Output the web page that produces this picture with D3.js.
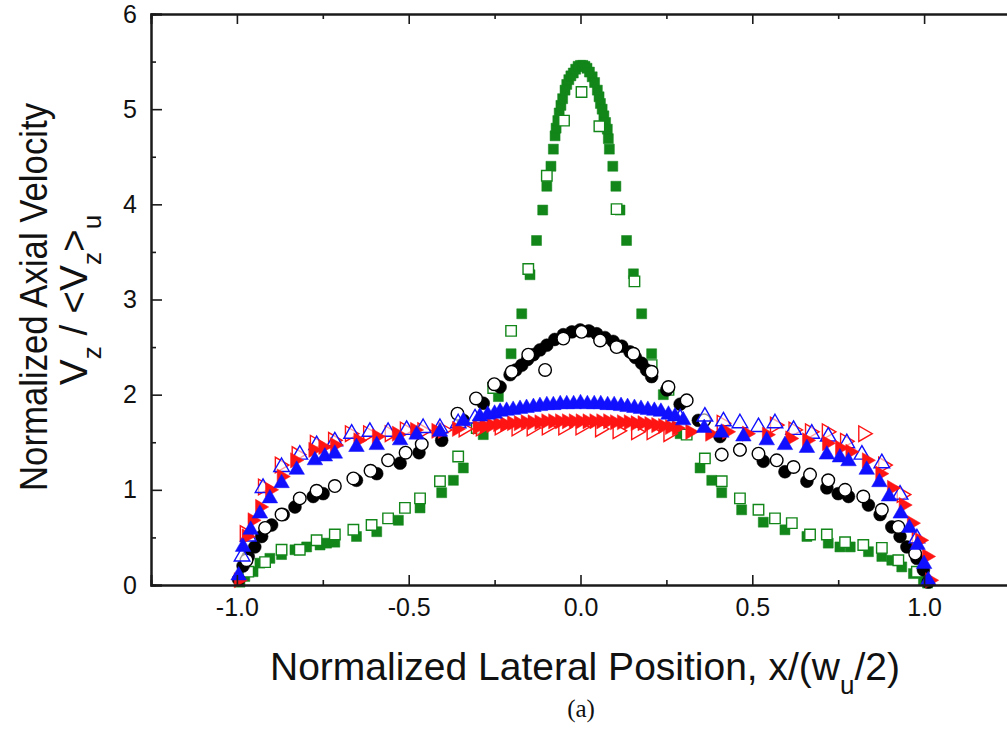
<!DOCTYPE html>
<html>
<head>
<meta charset="utf-8">
<script src="https://cdn.jsdelivr.net/npm/d3@7"></script>
<style>
  html, body { margin: 0; padding: 0; background: #fff; }
  svg { display: block; }
  text { font-family: "Liberation Sans", Arial, sans-serif; }
</style>
</head>
<body>
<script>
// ---------------- DATA ----------------
const xTicks = [-1.0, -0.5, 0.0, 0.5, 1.0];
const xMinorTicks = [-0.75, -0.25, 0.25, 0.75];
const yTicks = [0, 1, 2, 3, 4, 5, 6];
const yMinorTicks = [0.5, 1.5, 2.5, 3.5, 4.5, 5.5];

// green filled squares
const greenFilled = [[-0.991,0.03],[-0.977,0.09],[-0.953,0.14],[-0.933,0.23],[-0.904,0.28],[-0.870,0.32],[-0.831,0.37],[-0.797,0.40],[-0.758,0.42],[-0.739,0.44],[-0.715,0.45],[-0.652,0.51],[-0.593,0.56],[-0.530,0.68],[-0.467,0.81],[-0.404,0.97],[-0.370,1.10],[-0.341,1.23],[-0.283,1.58],[-0.239,1.98],[-0.202,2.43],[-0.171,2.85],[-0.147,3.26],[-0.128,3.62],[-0.110,3.94],[-0.098,4.19],[-0.086,4.40],[-0.079,4.58],[-0.074,4.72],[-0.071,4.80],[-0.066,4.88],[-0.062,4.96],[-0.057,5.04],[-0.052,5.11],[-0.045,5.20],[-0.040,5.26],[-0.034,5.31],[-0.028,5.35],[-0.021,5.38],[-0.014,5.42],[-0.007,5.45],[0.000,5.46],[0.007,5.46],[0.013,5.45],[0.019,5.43],[0.026,5.39],[0.034,5.34],[0.041,5.28],[0.049,5.20],[0.054,5.13],[0.058,5.06],[0.063,5.00],[0.068,4.93],[0.073,4.86],[0.078,4.79],[0.081,4.69],[0.084,4.58],[0.094,4.40],[0.103,4.19],[0.115,3.94],[0.134,3.62],[0.154,3.27],[0.178,2.85],[0.207,2.43],[0.241,2.00],[0.290,1.59],[0.348,1.23],[0.382,1.10],[0.411,0.97],[0.469,0.79],[0.532,0.66],[0.595,0.58],[0.659,0.51],[0.721,0.44],[0.755,0.40],[0.785,0.40],[0.838,0.35],[0.877,0.30],[0.906,0.26],[0.935,0.19],[0.969,0.12],[0.998,0.05],[1.010,0.02]];

// green open squares
const greenOpen = [[-0.967,0.14],[-0.918,0.24],[-0.870,0.37],[-0.817,0.37],[-0.768,0.47],[-0.715,0.53],[-0.661,0.58],[-0.608,0.63],[-0.560,0.70],[-0.511,0.81],[-0.467,0.91],[-0.409,1.09],[-0.356,1.35],[-0.302,1.65],[-0.254,2.07],[-0.202,2.67],[-0.152,3.32],[-0.098,4.30],[-0.048,4.88],[0.003,5.18],[0.055,4.82],[0.105,3.95],[0.157,3.19],[0.207,2.31],[0.256,2.05],[0.309,1.58],[0.362,1.33],[0.411,1.09],[0.464,0.91],[0.518,0.79],[0.566,0.70],[0.615,0.65],[0.668,0.53],[0.717,0.53],[0.770,0.45],[0.823,0.42],[0.877,0.39],[0.925,0.26],[0.979,0.14]];

// black filled circles
const blackFilled = [[-0.995,0.06],[-0.982,0.20],[-0.967,0.30],[-0.948,0.40],[-0.928,0.51],[-0.899,0.63],[-0.865,0.74],[-0.831,0.82],[-0.778,0.93],[-0.749,0.96],[-0.652,1.10],[-0.593,1.17],[-0.525,1.28],[-0.470,1.39],[-0.404,1.52],[-0.341,1.73],[-0.283,1.91],[-0.234,2.08],[-0.205,2.21],[-0.188,2.26],[-0.171,2.31],[-0.154,2.37],[-0.137,2.42],[-0.118,2.47],[-0.098,2.52],[-0.075,2.58],[-0.050,2.63],[-0.025,2.66],[-0.001,2.68],[0.024,2.67],[0.047,2.64],[0.071,2.60],[0.095,2.56],[0.120,2.51],[0.144,2.45],[0.160,2.39],[0.178,2.33],[0.192,2.26],[0.207,2.19],[0.251,2.05],[0.290,1.90],[0.343,1.73],[0.406,1.56],[0.464,1.42],[0.532,1.30],[0.595,1.19],[0.659,1.09],[0.717,1.02],[0.750,0.96],[0.780,0.93],[0.838,0.84],[0.872,0.74],[0.906,0.61],[0.930,0.51],[0.950,0.40],[0.979,0.28],[0.998,0.16],[1.012,0.03]];

// black open circles
const blackOpen = [[-0.972,0.26],[-0.918,0.60],[-0.870,0.74],[-0.817,0.91],[-0.768,0.99],[-0.715,1.04],[-0.661,1.12],[-0.611,1.20],[-0.560,1.31],[-0.509,1.39],[-0.462,1.48],[-0.358,1.80],[-0.304,1.96],[-0.251,2.11],[-0.200,2.24],[-0.152,2.42],[-0.103,2.26],[-0.050,2.59],[0.003,2.66],[0.057,2.57],[0.105,2.50],[0.154,2.43],[0.207,2.24],[0.256,2.08],[0.309,1.94],[0.360,1.73],[0.411,1.37],[0.464,1.42],[0.518,1.38],[0.571,1.31],[0.620,1.24],[0.668,1.16],[0.721,1.10],[0.770,1.00],[0.823,0.93],[0.877,0.79],[0.925,0.61],[0.974,0.33]];

// blue filled up-triangles
const blueFilled = [[-0.995,0.10],[-0.982,0.40],[-0.960,0.58],[-0.933,0.75],[-0.904,0.91],[-0.870,1.07],[-0.826,1.21],[-0.773,1.31],[-0.744,1.35],[-0.715,1.38],[-0.652,1.45],[-0.593,1.47],[-0.525,1.52],[-0.477,1.58],[-0.409,1.61],[-0.341,1.72],[-0.293,1.77],[-0.270,1.79],[-0.250,1.80],[-0.234,1.82],[-0.215,1.83],[-0.196,1.84],[-0.176,1.85],[-0.157,1.86],[-0.137,1.87],[-0.118,1.88],[-0.098,1.89],[-0.079,1.89],[-0.059,1.90],[-0.040,1.90],[-0.020,1.90],[0.000,1.91],[0.020,1.90],[0.040,1.90],[0.059,1.90],[0.079,1.89],[0.098,1.89],[0.118,1.88],[0.137,1.87],[0.157,1.86],[0.176,1.85],[0.196,1.84],[0.215,1.83],[0.234,1.82],[0.256,1.79],[0.275,1.77],[0.299,1.73],[0.360,1.65],[0.410,1.60],[0.474,1.56],[0.542,1.52],[0.595,1.47],[0.659,1.44],[0.717,1.37],[0.755,1.34],[0.780,1.30],[0.833,1.21],[0.870,1.08],[0.898,0.93],[0.932,0.75],[0.957,0.60],[0.981,0.42],[1.000,0.22],[1.012,0.05]];

// blue open up-triangles
const blueOpen = [[-0.985,0.30],[-0.967,0.51],[-0.924,1.02],[-0.870,1.24],[-0.817,1.37],[-0.768,1.47],[-0.715,1.51],[-0.666,1.59],[-0.613,1.61],[-0.560,1.61],[-0.506,1.63],[-0.458,1.65],[-0.409,1.65],[-0.356,1.70],[-0.307,1.75],[0.290,1.75],[0.362,1.77],[0.416,1.72],[0.464,1.70],[0.518,1.66],[0.566,1.70],[0.620,1.63],[0.673,1.59],[0.721,1.56],[0.775,1.49],[0.819,1.37],[0.877,1.28],[0.930,0.95],[0.979,0.49]];

// red filled right-triangles
const redFilled = [[-0.995,0.05],[-0.972,0.51],[-0.955,0.68],[-0.933,0.82],[-0.904,1.00],[-0.870,1.14],[-0.831,1.31],[-0.778,1.42],[-0.749,1.45],[-0.715,1.47],[-0.647,1.52],[-0.593,1.56],[-0.535,1.59],[-0.482,1.63],[-0.420,1.62],[-0.360,1.64],[-0.300,1.66],[-0.280,1.67],[-0.260,1.68],[-0.240,1.69],[-0.220,1.69],[-0.200,1.70],[-0.180,1.70],[-0.160,1.71],[-0.140,1.71],[-0.120,1.71],[-0.100,1.72],[-0.080,1.72],[-0.060,1.72],[-0.040,1.72],[-0.020,1.72],[0.000,1.72],[0.020,1.72],[0.040,1.72],[0.060,1.72],[0.080,1.72],[0.100,1.71],[0.120,1.71],[0.140,1.71],[0.160,1.70],[0.180,1.70],[0.200,1.69],[0.220,1.68],[0.240,1.67],[0.260,1.66],[0.280,1.65],[0.319,1.61],[0.377,1.59],[0.426,1.61],[0.484,1.59],[0.542,1.58],[0.610,1.54],[0.659,1.52],[0.717,1.49],[0.755,1.44],[0.785,1.40],[0.833,1.31],[0.872,1.17],[0.906,1.02],[0.940,0.84],[0.964,0.65],[0.988,0.47],[1.008,0.30],[1.017,0.05]];

// red open right-triangles
const redOpen = [[-0.977,0.54],[-0.924,1.03],[-0.875,1.26],[-0.826,1.37],[-0.773,1.49],[-0.720,1.52],[-0.671,1.59],[-0.618,1.59],[-0.555,1.59],[-0.511,1.63],[-0.460,1.62],[-0.400,1.63],[-0.340,1.64],[-0.290,1.65],[-0.235,1.66],[-0.186,1.65],[-0.142,1.65],[-0.098,1.66],[-0.050,1.66],[0.000,1.66],[0.057,1.64],[0.108,1.62],[0.162,1.61],[0.207,1.61],[0.256,1.59],[0.411,1.70],[0.566,1.68],[0.620,1.63],[0.668,1.61],[0.717,1.61],[0.770,1.51],[0.823,1.59],[0.881,1.26],[0.935,0.95],[0.979,0.47]];

// ---------------- CHART ----------------
const W = 1007, H = 731;
const svg = d3.select("body").append("svg").attr("width", W).attr("height", H);

const x = d3.scaleLinear().domain([-1.25, 1.25]).range([151, 1010]);
const y = d3.scaleLinear().domain([0, 6]).range([585, 14]);

const green = "#13861a", blue = "#1010ff", red = "#ff1414", black = "#000";

const series = [
  {data: greenFilled, shape: "square", color: green, filled: true, size: 100},
  {data: greenOpen, shape: "square", color: green, filled: false, size: 110},
  {data: blackFilled, shape: "circle", color: black, filled: true, size: 130},
  {data: blackOpen, shape: "circle", color: black, filled: false, size: 125},
  {data: redOpen, shape: "right", color: red, filled: false, size: 105},
  {data: blueOpen, shape: "up", color: blue, filled: false, size: 105},
  {data: redFilled, shape: "right", color: red, filled: true, size: 100},
  {data: blueFilled, shape: "up", color: blue, filled: true, size: 105}
];

const symType = {square: d3.symbolSquare, circle: d3.symbolCircle, right: d3.symbolTriangle, up: d3.symbolTriangle};

const plot = svg.append("g");
series.forEach(s => {
  const path = d3.symbol().type(symType[s.shape]).size(s.size)();
  plot.append("g").selectAll("path").data(s.data).join("path")
    .attr("d", path)
    .attr("transform", d => `translate(${x(d[0])},${y(d[1])})` + (s.shape === "right" ? " rotate(90)" : ""))
    .attr("fill", s.filled ? s.color : "#fff")
    .attr("fill-opacity", s.filled ? 1 : (s.shape === "circle" || s.shape === "square" ? 1 : 0.6))
    .attr("stroke", s.color)
    .attr("stroke-width", s.filled ? 0.5 : 1.4);
});

// axes
const axisColor = "#1a1a1a";
const fmtX = d => d.toFixed(1);
const gx = svg.append("g").attr("transform", `translate(0,${y(0)})`)
  .call(d3.axisBottom(x).tickValues(xTicks).tickFormat(fmtX).tickSize(-10).tickPadding(13));
const gxm = svg.append("g").attr("transform", `translate(0,${y(0)})`)
  .call(d3.axisBottom(x).tickValues(xMinorTicks).tickFormat("").tickSize(-5));
const gt = svg.append("g").attr("transform", `translate(0,${y(6)})`)
  .call(d3.axisTop(x).tickValues(xTicks).tickFormat("").tickSize(-10));
const gtm = svg.append("g").attr("transform", `translate(0,${y(6)})`)
  .call(d3.axisTop(x).tickValues(xMinorTicks).tickFormat("").tickSize(-5));
const gy = svg.append("g").attr("transform", `translate(${x(-1.25)},0)`)
  .call(d3.axisLeft(y).tickValues(yTicks).tickFormat(d3.format("d")).tickSize(-11).tickPadding(14));
const gym = svg.append("g").attr("transform", `translate(${x(-1.25)},0)`)
  .call(d3.axisLeft(y).tickValues(yMinorTicks).tickFormat("").tickSize(-5));

[gx, gxm, gt, gtm, gy, gym].forEach(g => {
  g.select(".domain").attr("stroke", axisColor).attr("stroke-width", 2);
  g.selectAll(".tick line").attr("stroke", axisColor).attr("stroke-width", 1.6);
  g.selectAll(".tick text").attr("fill", "#111").style("font-family", '"Liberation Sans", Arial, sans-serif').style("font-size", "25px");
});
gx.selectAll(".tick text").attr("dy", "0.71em");

// axis titles
svg.append("text")
  .attr("x", 585).attr("y", 680)
  .attr("text-anchor", "middle")
  .style("font-size", "39px").attr("fill", "#111")
  .call(t => {
    t.append("tspan").text("Normalized Lateral Position, x/(w");
    t.append("tspan").attr("dy", 14).style("font-size", "26px").text("u");
    t.append("tspan").attr("dy", -14).text("/2)");
  });

svg.append("text")
  .attr("transform", "translate(47,297) rotate(-90)")
  .attr("text-anchor", "middle")
  .attr("textLength", 388).attr("lengthAdjust", "spacingAndGlyphs")
  .style("font-size", "39px").attr("fill", "#111")
  .text("Normalized Axial Velocity");

svg.append("text")
  .attr("transform", "translate(87,300) rotate(-90)")
  .attr("text-anchor", "middle")
  .style("font-size", "39px").attr("fill", "#111")
  .call(t => {
    t.append("tspan").text("V");
    t.append("tspan").attr("dy", 14).style("font-size", "26px").text("z");
    t.append("tspan").attr("dy", -14).text(" / <V");
    t.append("tspan").attr("dy", 14).style("font-size", "26px").text("z");
    t.append("tspan").attr("dy", -14).text(">");
    t.append("tspan").attr("dy", 14).style("font-size", "26px").text("u");
  });

svg.append("text")
  .attr("x", 581).attr("y", 717)
  .attr("text-anchor", "middle")
  .style("font-family", '"Liberation Serif", "Times New Roman", serif')
  .style("font-size", "25px").attr("fill", "#111")
  .text("(a)");
</script>
</body>
</html>
